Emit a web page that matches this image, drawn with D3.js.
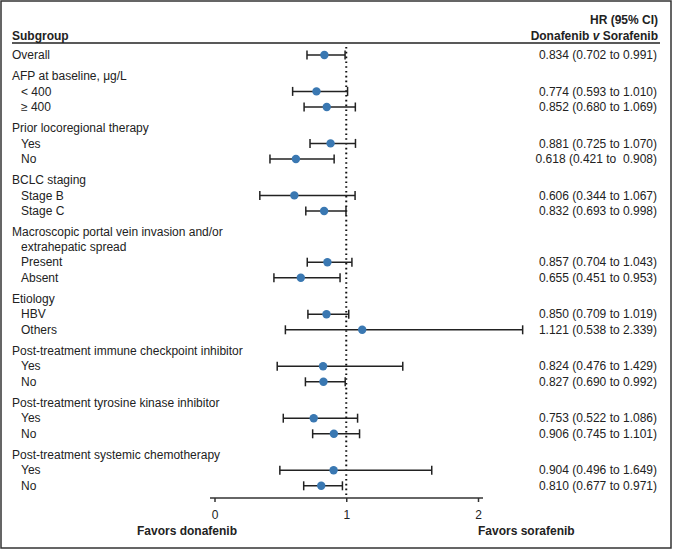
<!DOCTYPE html>
<html><head><meta charset="utf-8">
<script src="https://cdn.jsdelivr.net/npm/d3@7"></script>
<style>
html,body{margin:0;padding:0;background:#fff;}
text{font-family:"Liberation Sans",Arial,Helvetica,sans-serif;fill:#222;white-space:pre;}
</style></head>
<body>
<svg id="c" width="673" height="550"></svg>
<script>
// ---- data ----
const labels = ["Overall",
  "AFP at baseline, μg/L", "< 400", "≥ 400",
  "Prior locoregional therapy", "Yes", "No",
  "BCLC staging", "Stage B", "Stage C",
  "Macroscopic portal vein invasion and/or|extrahepatic spread", "Present", "Absent",
  "Etiology", "HBV", "Others",
  "Post-treatment immune checkpoint inhibitor", "Yes", "No",
  "Post-treatment tyrosine kinase inhibitor", "Yes", "No",
  "Post-treatment systemic chemotherapy", "Yes", "No"];
const level = [0, 0,1,1, 0,1,1, 0,1,1, 0,1,1, 0,1,1, 0,1,1, 0,1,1, 0,1,1];
const hr = [0.834, null,0.774,0.852, null,0.881,0.618, null,0.606,0.832, null,0.857,0.655,
  null,0.850,1.121, null,0.824,0.827, null,0.753,0.906, null,0.904,0.810];
const lo = [0.702, null,0.593,0.680, null,0.725,0.421, null,0.344,0.693, null,0.704,0.451,
  null,0.709,0.538, null,0.476,0.690, null,0.522,0.745, null,0.496,0.677];
const hi = [0.991, null,1.010,1.069, null,1.070,0.908, null,1.067,0.998, null,1.043,0.953,
  null,1.019,2.339, null,1.429,0.992, null,1.086,1.101, null,1.649,0.971];
const ciText = ["0.834 (0.702 to 0.991)", "", "0.774 (0.593 to 1.010)", "0.852 (0.680 to 1.069)",
  "", "0.881 (0.725 to 1.070)", "0.618 (0.421 to  0.908)",
  "", "0.606 (0.344 to 1.067)", "0.832 (0.693 to 0.998)",
  "", "0.857 (0.704 to 1.043)", "0.655 (0.451 to 0.953)",
  "", "0.850 (0.709 to 1.019)", "1.121 (0.538 to 2.339)",
  "", "0.824 (0.476 to 1.429)", "0.827 (0.690 to 0.992)",
  "", "0.753 (0.522 to 1.086)", "0.906 (0.745 to 1.101)",
  "", "0.904 (0.496 to 1.649)", "0.810 (0.677 to 0.971)"];
const xTicks = [0, 1, 2];

// ---- layout ----
const svg = d3.select("#c");
const x = d3.scaleLinear().domain([0, 2]).range([214.5, 478]);
const fs = 12;

// frame
svg.append("rect").attr("x", 1).attr("y", 1).attr("width", 670).attr("height", 547)
  .attr("fill", "none").attr("stroke", "#333").attr("stroke-width", 1.5);

// header
svg.append("text").attr("x", 12).attr("y", 36).attr("dy", "0.35em")
  .style("font-weight", "bold").style("font-size", fs + "px").text("Subgroup");
svg.append("text").attr("x", 658).attr("y", 20).attr("dy", "0.35em").attr("text-anchor", "end")
  .style("font-weight", "bold").style("font-size", fs + "px").text("HR (95% CI)");
const h2 = svg.append("text").attr("x", 658).attr("y", 36).attr("dy", "0.35em").attr("text-anchor", "end")
  .style("font-weight", "bold").style("font-size", fs + "px");
h2.append("tspan").text("Donafenib ");
h2.append("tspan").style("font-style", "italic").text("v");
h2.append("tspan").text(" Sorafenib");
svg.append("line").attr("x1", 12).attr("x2", 660).attr("y1", 43).attr("y2", 43)
  .attr("stroke", "#222").attr("stroke-width", 1.5);

// row y positions
const ys = [];
let y = 55;
labels.forEach((l, i) => {
  if (i > 0) y += (level[i] === 0) ? 20.8 : 15.6;
  ys.push(y);
  if (l.includes("|")) y += 14.8;
});

// labels
labels.forEach((l, i) => {
  const parts = l.split("|");
  parts.forEach((p, k) => {
    svg.append("text").attr("x", (level[i] === 0 && k === 0) ? 12 : 21)
      .attr("y", ys[i] + k * 14.8).attr("dy", "0.35em")
      .style("font-size", fs + "px").text(p);
  });
  if (ciText[i]) {
    svg.append("text").attr("x", 657).attr("y", ys[i]).attr("dy", "0.35em")
      .attr("text-anchor", "end").style("font-size", fs + "px").text(ciText[i]);
  }
});

// reference line
svg.append("line").attr("x1", x(1)).attr("x2", x(1)).attr("y1", 47).attr("y2", 497)
  .attr("stroke", "#111").attr("stroke-width", 2).attr("stroke-dasharray", "1.6,3.2");

// error bars
const idx = d3.range(labels.length).filter(i => hr[i] !== null);
const g = svg.append("g");
idx.forEach(i => {
  const yy = ys[i];
  g.append("line").attr("x1", x(lo[i])).attr("x2", x(hi[i])).attr("y1", yy).attr("y2", yy)
    .attr("stroke", "#222").attr("stroke-width", 1.5);
  [lo[i], hi[i]].forEach(v => {
    g.append("line").attr("x1", x(v)).attr("x2", x(v)).attr("y1", yy - 4.5).attr("y2", yy + 4.5)
      .attr("stroke", "#222").attr("stroke-width", 1.5);
  });
  g.append("circle").attr("cx", x(hr[i])).attr("cy", yy).attr("r", 4.2).attr("fill", "#3a78b2");
});

// axis
const axY = 498;
const ax = svg.append("g").attr("transform", `translate(0,${axY})`)
  .call(d3.axisBottom(x).tickValues(xTicks).tickFormat(d3.format("d")).tickSize(4).tickPadding(8));
ax.select(".domain").remove();
ax.selectAll(".tick line").attr("stroke", "#333").attr("stroke-width", 1.5);
ax.selectAll(".tick text").style("font-size", fs + "px").style("font-family", "Liberation Sans, Arial, sans-serif").attr("fill", "#222");
svg.append("line").attr("x1", x(0) - 4.5).attr("x2", x(2) + 5).attr("y1", axY).attr("y2", axY)
  .attr("stroke", "#333").attr("stroke-width", 1.5);

svg.append("text").attr("x", 237).attr("y", 531).attr("dy", "0.35em").attr("text-anchor", "end")
  .style("font-weight", "bold").style("font-size", fs + "px").text("Favors donafenib");
svg.append("text").attr("x", 478).attr("y", 531).attr("dy", "0.35em")
  .style("font-weight", "bold").style("font-size", fs + "px").text("Favors sorafenib");
</script>
</body></html>
